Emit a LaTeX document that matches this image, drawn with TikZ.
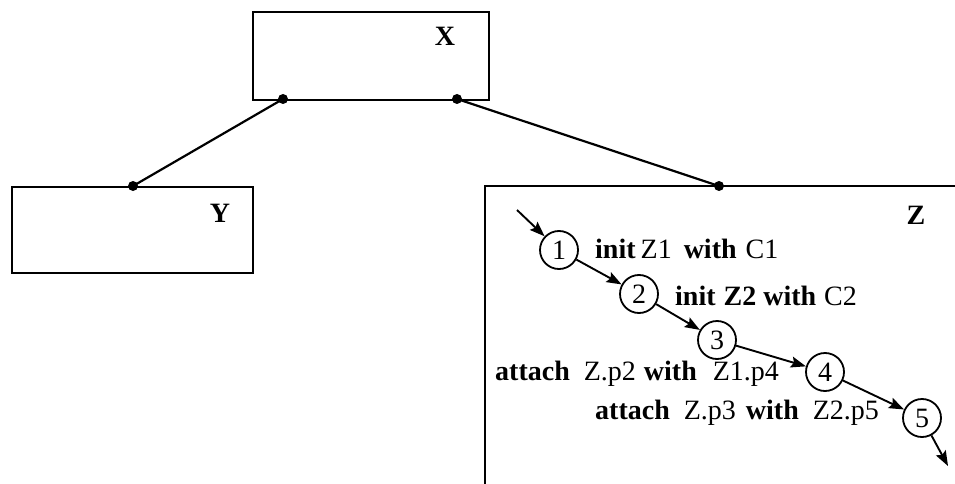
\documentclass[tikz,border=0pt]{standalone}
\usepackage{fontspec}
\setmainfont{Liberation Serif}
\usetikzlibrary{arrows.meta}
\begin{document}
\begin{tikzpicture}[x=1pt,y=-1pt,
  box/.style={draw,line width=2pt,inner sep=0,anchor=north west},
  lbl/.style={inner sep=0,anchor=base,font=\fontsize{28}{30}\selectfont\bfseries},
  txt/.style={inner sep=0,anchor=base west,font=\fontsize{28}{30}\selectfont},
  stp/.style={draw,circle,line width=1.8pt,minimum size=38pt,inner sep=0,font=\fontsize{28}{30}\selectfont},
  conn/.style={line width=2.2pt},
  dot/.style={circle,fill,inner sep=0,minimum size=10pt},
  flow/.style={line width=1.9pt,-{Stealth[length=15pt,width=11pt,inset=2.5pt]}}]
\useasboundingbox (0,0) rectangle (955,484);
% boxes
\node[box,minimum width=236pt,minimum height=88pt] (X) at (252,11) {};
\node[box,minimum width=241pt,minimum height=86pt] (Y) at (11,186) {};
\coordinate (zbl) at (485,484);
\coordinate (ztl) at (485,186);
\coordinate (ztr) at (955,186);
\draw[line width=2pt] (zbl) -- (ztl) -- (ztr);
% labels
\node[lbl] (xl) at (445,46) {X};
\node[lbl] (yl) at (220,222) {Y};
\node[lbl] (zl) at (916,224) {Z};
% attachment points
\node[dot] (dx1) at (283,99) {};
\node[dot] (dx2) at (457,99) {};
\node[dot] (dy) at (133,186) {};
\node[dot] (dz) at (719,186) {};
\draw[conn] (dx1.center) -- (dy.center);
\draw[conn] (dx2.center) -- (dz.center);
% steps
\node[stp] (c1) at (559,250) {1};
\node[stp] (c2) at (639,294) {2};
\node[stp] (c3) at (717,340) {3};
\node[stp] (c4) at (825,372) {4};
\node[stp] (c5) at (922,418) {5};
\coordinate (in) at (517,210);
\coordinate (out) at (948,466);
\draw[flow] (in) -- (c1);
\draw[flow] (c1) -- (c2);
\draw[flow] (c2) -- (c3);
\draw[flow] (c3) -- (c4);
\draw[flow] (c4) -- (c5);
\draw[flow] (c5) -- (out);
% step texts
\node[txt] (t1) at (595,258) {\textbf{init}\hspace{5pt}Z1\hspace{12pt}\textbf{with}\hspace{9pt}C1};
\node[txt] (t2) at (675,305) {\textbf{init}\hspace{8pt}\textbf{Z2}\hspace{7pt}\textbf{with}\hspace{8pt}C2};
\node[txt] (t3) at (495,380) {\textbf{attach}\hspace{14pt}Z.p2\hspace{8pt}\textbf{with}\hspace{16pt}Z1.p4};
\node[txt] (t4) at (595,419) {\textbf{attach}\hspace{14pt}Z.p3\hspace{10pt}\textbf{with}\hspace{14pt}Z2.p5};
\end{tikzpicture}
\end{document}
